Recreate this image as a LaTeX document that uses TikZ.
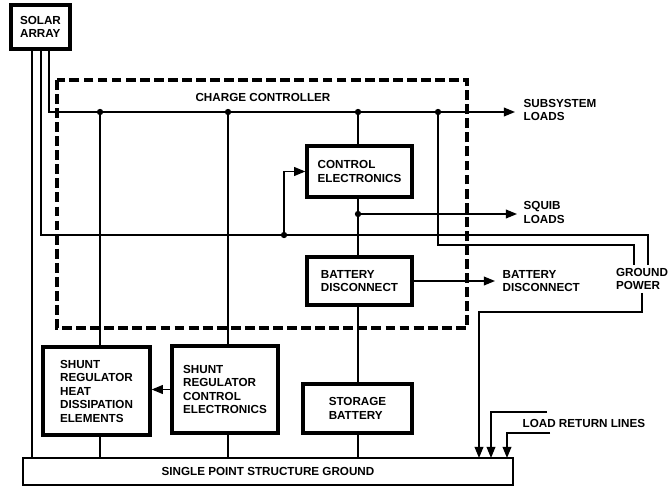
\documentclass[tikz,border=0pt]{standalone}
\usepackage{fontspec}
\setmainfont{Liberation Sans}
\usetikzlibrary{arrows.meta,positioning,calc}

\begin{document}
\begin{tikzpicture}[
    x=0.025cm, y=-0.025cm,
    txt/.style={align=left, inner sep=1pt, font=\fontsize{8.3}{9.6}\selectfont\bfseries},
    box/.style={txt, draw, line width=2.3pt},
    wire/.style={line width=1pt},
    arr/.style={wire, -{Triangle[length=2.8mm, width=2.2mm]}},
    dot/.style={circle, fill, inner sep=0pt, minimum size=4.5pt}
  ]
    \useasboundingbox (0,0) rectangle (671,486);
    % boxes
    \node[box, minimum width=1.475cm, minimum height=1.1cm] (sa) at (40.5,27) {SOLAR\\ARRAY};
    \node[box, minimum width=2.625cm, minimum height=1.275cm] (ctrl) at (359.5,171.5) {CONTROL\\ELECTRONICS};
    \node[box, minimum width=2.625cm, minimum height=1.2cm] (bd) at (359.5,281) {BATTERY\\DISCONNECT};
    \node[box, minimum width=2.725cm, minimum height=1.225cm] (sb) at (357.5,408.5) {STORAGE\\BATTERY};
    \node[box, minimum width=2.675cm, minimum height=2.2cm] (heat) at (96.5,391) {SHUNT\\REGULATOR\\HEAT\\DISSIPATION\\ELEMENTS};
    \node[box, minimum width=2.65cm, minimum height=2.175cm] (src) at (225,389.5) {SHUNT\\REGULATOR\\CONTROL\\ELECTRONICS};
    \node[box, line width=1.8pt, minimum width=12.25cm, minimum height=0.675cm] (gnd) at (268,471.5) {SINGLE POINT STRUCTURE GROUND};
    \draw[line width=2.6pt, dash pattern=on 7pt off 3pt] (57,80) rectangle (467,328);
    % labels
    \node[txt] (cc) at (263,97) {CHARGE CONTROLLER};
    \node[txt, anchor=west] (subs) at (522,110) {SUBSYSTEM\\LOADS};
    \node[txt, anchor=west] (squib) at (522,212.5) {SQUIB\\LOADS};
    \node[txt, anchor=west] (bdl) at (501,281) {BATTERY\\DISCONNECT};
    \node[txt, inner sep=2pt] (gp) at (642,279) {GROUND\\POWER};
    \node[txt, anchor=west] (lrl) at (521,423) {LOAD RETURN LINES};
    % points
    \coordinate (sa1) at (32,49);
    \coordinate (sa2) at (41,49);
    \coordinate (sa3) at (49,49);
    \node[dot] (d1) at (100,112) {};
    \node[dot] (d2) at (228,112) {};
    \node[dot] (d3) at (358,112) {};
    \node[dot] (d4) at (438,112) {};
    \node[dot] (d5) at (284,235) {};
    \node[dot] (d6) at (358,214) {};
    \coordinate (subsend) at (515,112);
    \coordinate (squibend) at (517,214);
    \coordinate (bdend) at (495,281);
    \coordinate (gpa) at ($(gp.north)+(-8,0)$);
    \coordinate (gpb) at ($(gp.north)+(6,0)$);
    \coordinate (gpc) at (479,312);
    \coordinate (g1) at (479,458);
    \coordinate (g2) at (491,458);
    \coordinate (g3) at (507,458);
    \coordinate (lr1) at (547,412);
    \coordinate (lr2) at (550,433);
    % wires
    \draw[wire] (sa1) -- (sa1 |- gnd.north);
    \draw[arr] (sa3) |- (subsend);
    \draw[wire] (sa2) |- (d5) -- (d5 -| gpb) -- (gpb);
    \draw[wire] (d4) -- ++(0,133) -| (gpa);
    \draw[arr] (d5) |- (ctrl.west);
    \draw[wire] (d1) -- (d1 |- heat.north);
    \draw[wire] (d1 |- heat.south) -- (d1 |- gnd.north);
    \draw[wire] (d2) -- (d2 |- src.north);
    \draw[wire] (d2 |- src.south) -- (d2 |- gnd.north);
    \draw[arr] (src.west) -- (src.west -| heat.east);
    \draw[wire] (d3) -- (d3 |- ctrl.north);
    \draw[wire] (d3 |- ctrl.south) -- (d3 |- bd.north);
    \draw[wire] (d3 |- bd.south) -- (d3 |- sb.north);
    \draw[wire] (d3 |- sb.south) -- (d3 |- gnd.north);
    \draw[arr] (d6) -- (squibend);
    \draw[arr] (bd.east) -- (bdend);
    \draw[arr] (gp.south) |- (gpc) -- (g1);
    \draw[arr] (lr1) -| (g2);
    \draw[arr] (lr2) -| (g3);
  \end{tikzpicture}
\end{document}
